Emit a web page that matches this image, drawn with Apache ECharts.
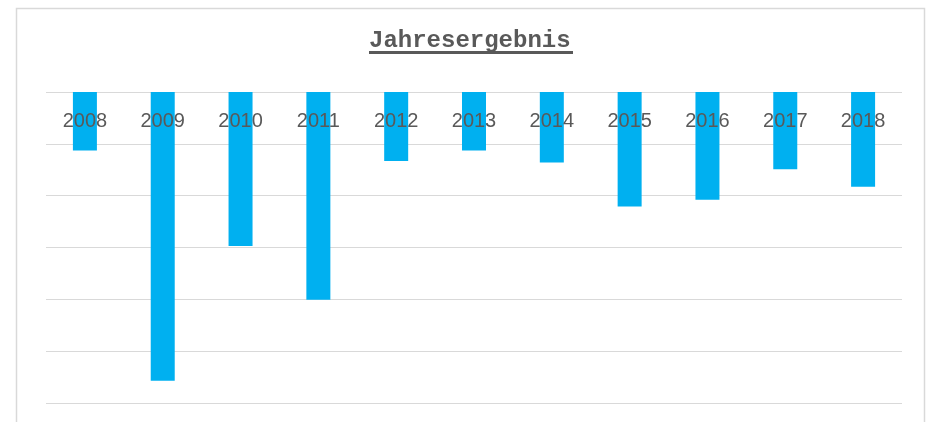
<!DOCTYPE html>
<html>
<head>
<meta charset="utf-8">
<script src="https://cdn.jsdelivr.net/npm/echarts@6/dist/echarts.min.js"></script>
<style>
html,body{margin:0;padding:0;background:#fff;}
#chart{width:926px;height:422px;}
</style>
</head>
<body>
<div id="chart"></div>
<script>
const titleText = 'Jahresergebnis';
const years = ['2008','2009','2010','2011','2012','2013','2014','2015','2016','2017','2018'];
const results = [-1.13, -5.57, -2.97, -4.01, -1.33, -1.13, -1.36, -2.21, -2.08, -1.49, -1.83];
const yMin = -6, yMax = 0, yStep = 1;

const chart = echarts.init(document.getElementById('chart'), null, {renderer: 'canvas'});
chart.setOption({
  backgroundColor: '#ffffff',
  animation: false,
  title: {
    text: titleText,
    left: 369,
    top: 29,
    padding: 0,
    textStyle: {
      fontFamily: '"Liberation Mono", "Courier New", monospace',
      fontWeight: 'bold',
      fontSize: 24,
      color: '#595959'
    }
  },
  graphic: [
    {
      type: 'rect',
      shape: {x: 16.5, y: 8.5, width: 908, height: 440},
      style: {fill: 'none', stroke: '#d9d9d9', lineWidth: 1.5},
      silent: true
    },
    {
      type: 'rect',
      shape: {x: 369, y: 51, width: 204, height: 3},
      style: {fill: '#595959'},
      silent: true
    }
  ],
  grid: {left: 46, right: 24, top: 92, bottom: 19, containLabel: false, outerBoundsMode: 'none'},
  xAxis: {
    type: 'category',
    data: years,
    position: 'top',
    z: 10,
    axisLine: {show: false},
    axisTick: {show: false},
    axisLabel: {
      inside: true,
      margin: 19,
      fontFamily: '"Liberation Sans", Arial, sans-serif',
      fontSize: 20,
      color: '#595959'
    }
  },
  yAxis: {
    type: 'value',
    min: yMin,
    max: yMax,
    interval: yStep,
    axisLabel: {show: false},
    axisLine: {show: false},
    axisTick: {show: false},
    splitLine: {lineStyle: {color: '#d9d9d9', width: 1.2}}
  },
  series: [{
    type: 'bar',
    data: results,
    barWidth: 24,
    itemStyle: {color: '#00b0f0'}
  }]
});
</script>
</body>
</html>
